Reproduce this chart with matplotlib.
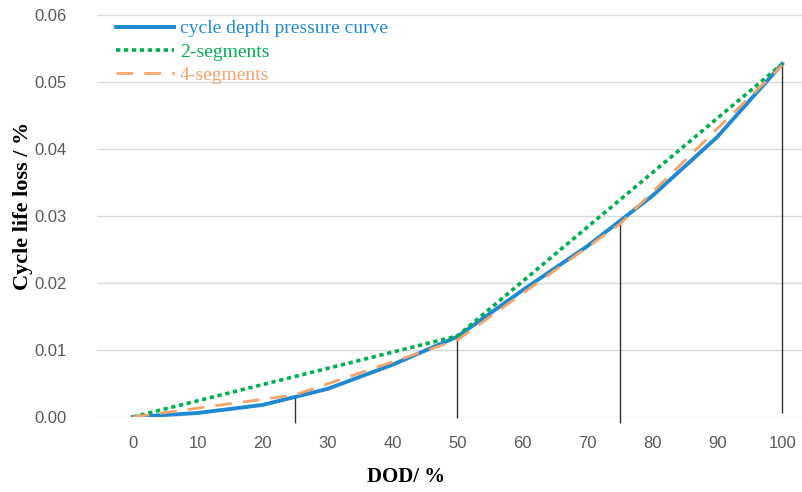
import matplotlib.pyplot as plt
import numpy as np

dod = [0, 10, 20, 30, 40, 50, 60, 70, 80, 90, 100]
curve = [0.0, 0.0006, 0.0018, 0.0042, 0.0078, 0.0120, 0.0189, 0.0255, 0.0330, 0.0418, 0.0527]

seg2_x = [0, 50, 100]
seg2_y = [0.0, 0.0121, 0.0527]

seg4_x = [0, 25, 50, 75, 100]
seg4_y = [0.0, 0.0033, 0.0115, 0.0288, 0.0525]

# marker lines at the segment breakpoints (bottom, top)
mark_x = [25, 50, 75, 100]
mark_lo = [-0.0009, -0.0001, -0.0009, 0.0006]
mark_hi = [0.0033, 0.0118, 0.0290, 0.0527]

xticks = [0, 10, 20, 30, 40, 50, 60, 70, 80, 90, 100]
yticks = [0.00, 0.01, 0.02, 0.03, 0.04, 0.05, 0.06]

fig = plt.figure(figsize=(8.03, 4.92), dpi=100)
ax = fig.add_axes([97 / 803, 1 - 417 / 492, 1 - 97 / 803, 402 / 492])

ax.plot(dod, curve, color="#1f8ad2", lw=2.8, label="cycle depth pressure curve", zorder=3)
ax.plot(seg2_x, seg2_y, color="#00b050", lw=2.6, ls=(0, (1.2, 1.0)), label="2-segments", zorder=4)
ax.plot(seg4_x, seg4_y, color="#f4a46a", lw=2.0, ls=(0, (6, 4)), label="4-segments", zorder=5)

ax.vlines(mark_x, mark_lo, mark_hi, color="#333333", lw=1.0, clip_on=False, zorder=2)

ax.set_xlim(-5.5, 103.2)
ax.set_ylim(0, 0.06)
ax.set_xticks(xticks)
ax.set_yticks(yticks)
ax.set_yticklabels([f"{v:.2f}" for v in yticks])
ax.tick_params(length=0, labelsize=12, labelcolor="#595959")
ax.tick_params(axis="x", pad=14)
ax.tick_params(axis="y", pad=22)
for lbl in ax.get_xticklabels() + ax.get_yticklabels():
    lbl.set_family("Liberation Sans")

ax.grid(axis="y", color="#d9d9d9", lw=1.0)
ax.set_axisbelow(True)
for s in ax.spines.values():
    s.set_visible(False)

ax.set_xlabel("DOD/ %", family="Liberation Serif", weight="bold", fontsize=15)
ax.xaxis.set_label_coords(0.438, -0.125)
ax.set_ylabel("Cycle life loss / %", family="Liberation Serif", weight="bold", fontsize=16)
ax.yaxis.set_label_coords(-0.091, 0.525)

leg = ax.legend(loc="upper left", bbox_to_anchor=(0.007, 1.022), frameon=False,
                prop={"family": "Liberation Serif", "size": 14},
                handlelength=3.0, handletextpad=0.3, labelspacing=0.3, borderaxespad=0.3)
for txt, line in zip(leg.get_texts(), leg.get_lines()):
    txt.set_color(line.get_color())

fig.savefig("out.png", dpi=100)
